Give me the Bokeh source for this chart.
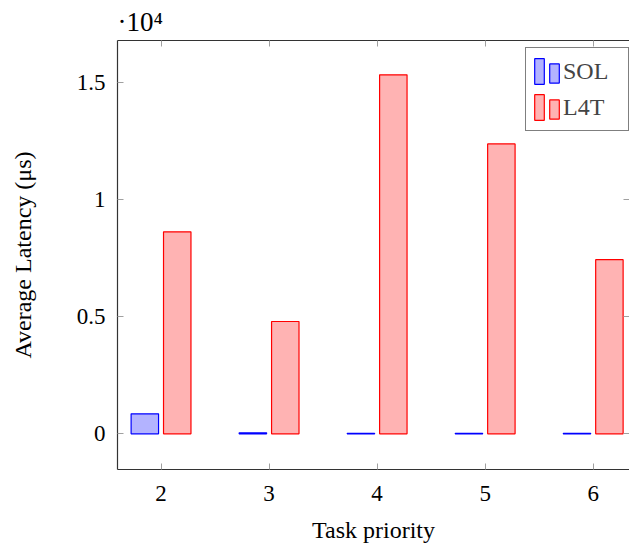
from bokeh.plotting import figure
from bokeh.models import (Range1d, LinearAxis, FixedTicker, Legend, LegendItem,
                          ColumnDataSource)
from bokeh.transform import dodge
from bokeh.embed import file_html
from bokeh.resources import INLINE

# ---- data ----
priorities = [2, 3, 4, 5, 6]
sol_latency = [855, 40, 15, 15, 15]
l4t_latency = [8630, 4800, 15340, 12390, 7440]
y_tick_values = [0, 5000, 10000, 15000]
y_tick_labels = ["0", "0.5", "1", "1.5"]
series_names = ["SOL", "L4T"]

FONT = "Liberation Serif"
AXIS_COL = "#333333"
TICK_COL = "#a0a0a0"
SOL_FILL, SOL_LINE = "#b3b3ff", "#0000ff"
L4T_FILL, L4T_LINE = "#ffb3b3", "#ff0000"

p = figure(width=629, height=550, output_backend="svg", toolbar_location=None,
           x_range=Range1d(1.597, 6.336), y_range=Range1d(-1526, 16808),
           min_border_left=117, min_border_right=0, min_border_top=40,
           min_border_bottom=81,
           x_axis_label="Task priority", y_axis_label="Average Latency (μs)")
p.outline_line_color = None
p.xgrid.visible = False
p.ygrid.visible = False
p.background_fill_color = "white"
p.border_fill_color = "white"

# scale factor shown as title
p.title.text = "·10⁴"
p.title.align = "left"
p.title.text_font = FONT
p.title.text_font_size = "27px"
p.title.text_font_style = "normal"
p.title.text_color = "black"
p.title.offset = 0
p.title.standoff = 8

source = ColumnDataSource(dict(priority=priorities, sol=sol_latency, l4t=l4t_latency))
r_sol = p.vbar(x=dodge("priority", -0.15, range=p.x_range), top="sol", bottom=0,
               width=0.254, source=source, fill_color=SOL_FILL, line_color=SOL_LINE,
               line_width=1.2)
r_l4t = p.vbar(x=dodge("priority", 0.15, range=p.x_range), top="l4t", bottom=0,
               width=0.254, source=source, fill_color=L4T_FILL, line_color=L4T_LINE,
               line_width=1.2)

# main axes
p.xaxis.ticker = FixedTicker(ticks=priorities)
p.yaxis.ticker = FixedTicker(ticks=y_tick_values)
p.yaxis.major_label_overrides = {v: t for v, t in zip(y_tick_values, y_tick_labels)}
for ax in (p.xaxis[0], p.yaxis[0]):
    ax.major_tick_in = 6
    ax.major_tick_out = 0
    ax.major_tick_line_color = TICK_COL
    ax.minor_tick_line_color = None
    ax.axis_line_color = AXIS_COL
    ax.axis_line_width = 1.2
    ax.major_label_text_font = FONT
    ax.major_label_text_font_size = "23px"
    ax.major_label_text_color = "black"
    ax.axis_label_text_font = FONT
    ax.axis_label_text_font_size = "24px"
    ax.axis_label_text_font_style = "normal"
    ax.axis_label_text_color = "black"
p.xaxis.major_label_standoff = 16
p.xaxis.axis_label_standoff = 13
p.yaxis.major_label_standoff = 12
p.yaxis.axis_label_standoff = 38

# mirrored axes (top and right), ticks only
top_ax = LinearAxis(ticker=FixedTicker(ticks=priorities), major_label_text_font_size="0px",
                    major_label_text_alpha=0, major_label_standoff=0,
                    major_tick_in=6, major_tick_out=0, major_tick_line_color=TICK_COL,
                    minor_tick_line_color=None, axis_line_color=AXIS_COL,
                    axis_line_width=1.2)
p.add_layout(top_ax, "above")
right_ax = LinearAxis(ticker=FixedTicker(ticks=y_tick_values), major_label_text_font_size="0px",
                      major_label_text_alpha=0, major_label_standoff=0,
                      major_tick_in=6, major_tick_out=0, major_tick_line_color=TICK_COL,
                      minor_tick_line_color=None, axis_line_color=None)
p.add_layout(right_ax, "right")

# legend (first bar of each entry + label)
legend = Legend(items=[LegendItem(label=series_names[0], renderers=[r_sol]),
                       LegendItem(label=series_names[1], renderers=[r_l4t])],
                location=(408, 338), orientation="vertical", padding=7, spacing=4,
                glyph_width=12, glyph_height=32, label_standoff=18, label_width=58,
                label_text_font=FONT, label_text_font_size="24px",
                border_line_color="black", border_line_width=1,
                background_fill_color="white", background_fill_alpha=1, margin=0)
p.add_layout(legend)

# second, shorter bar of each legend entry (pgfplots ybar legend style)
legend2 = Legend(items=[LegendItem(label=" ", renderers=[r_sol]),
                        LegendItem(label=" ", renderers=[r_l4t])],
                 location=(431, 348), orientation="vertical", padding=14, spacing=12,
                 glyph_width=12, glyph_height=24, label_standoff=0, label_width=1,
                 label_height=10, label_text_font=FONT, label_text_font_size="8px",
                 border_line_color=None, background_fill_alpha=0, margin=0)
p.add_layout(legend2)

open("out.html", "w").write(file_html(p, INLINE))
